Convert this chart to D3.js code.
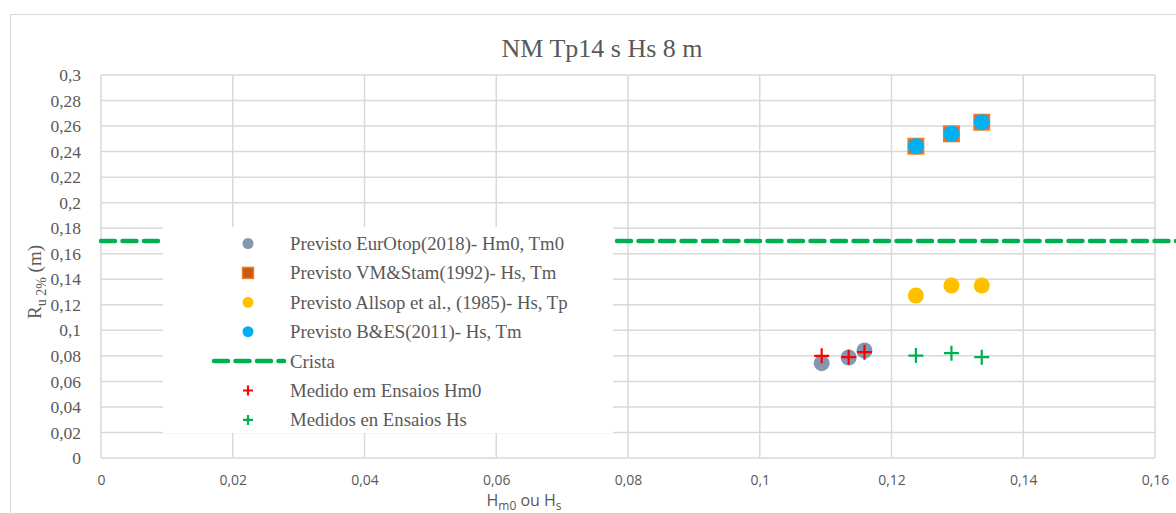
<!DOCTYPE html>
<html>
<head>
<meta charset="utf-8">
<script src="https://cdn.jsdelivr.net/npm/d3@7"></script>
<style>
  body { margin: 0; background: #fff; }
  svg { display: block; }
</style>
</head>
<body>
<div id="chart"></div>
<script>
// data
const xTicks = [0, 0.02, 0.04, 0.06, 0.08, 0.1, 0.12, 0.14, 0.16];
const yTicks = [0, 0.02, 0.04, 0.06, 0.08, 0.1, 0.12, 0.14, 0.16, 0.18, 0.2, 0.22, 0.24, 0.26, 0.28, 0.3];

const eurotopX = [0.1094, 0.1135, 0.1159];
const eurotopY = [0.0743, 0.0787, 0.0842];
const medidoHm0Y = [0.0800, 0.0790, 0.0829];

const hsX = [0.1237, 0.1291, 0.1337];
const vmStamY = [0.2442, 0.2539, 0.2630];
const allsopY = [0.1273, 0.1351, 0.1351];
const besY = [0.2442, 0.2539, 0.2630];
const medidosHsY = [0.0802, 0.0821, 0.0790];

const cristaX = [0, 0.17];
const cristaY = [0.17, 0.17];

const legendLabels = [
  "Previsto EurOtop(2018)- Hm0, Tm0",
  "Previsto VM&Stam(1992)- Hs, Tm",
  "Previsto Allsop et al., (1985)- Hs, Tp",
  "Previsto B&ES(2011)- Hs, Tm",
  "Crista",
  "Medido em Ensaios Hm0",
  "Medidos en Ensaios Hs"
];

const W = 1176, H = 513;
const margin = {top: 75, left: 101, right: 21, bottom: 55};
const grey = "#595959";
const serif = "Liberation Serif, Times New Roman, serif";
const sans = "Open Sans, Liberation Sans, sans-serif";

const svg = d3.select("#chart").append("svg")
  .attr("width", W).attr("height", H);

// outer chart border
svg.append("rect")
  .attr("x", 10.5).attr("y", 14.5)
  .attr("width", W + 10).attr("height", H + 10)
  .attr("fill", "#fff").attr("stroke", "#d9d9d9");

const x = d3.scaleLinear().domain([0, 0.16]).range([margin.left, W - margin.right]);
const y = d3.scaleLinear().domain([0, 0.3]).range([H - margin.bottom, margin.top]);

// gridlines
svg.append("g").selectAll("line").data(yTicks).enter().append("line")
  .attr("x1", x(0)).attr("x2", x(0.16))
  .attr("y1", d => y(d)).attr("y2", d => y(d))
  .attr("stroke", "#d9d9d9").attr("stroke-width", 1.5);
svg.append("g").selectAll("line").data(xTicks).enter().append("line")
  .attr("x1", d => x(d)).attr("x2", d => x(d))
  .attr("y1", y(0)).attr("y2", y(0.3))
  .attr("stroke", "#d9d9d9").attr("stroke-width", 1.5);

// axes
const fmt = d => String(d).replace(".", ",");
const yAxis = svg.append("g")
  .attr("transform", "translate(" + (x(0) - 17) + ",0)")
  .call(d3.axisLeft(y).tickValues(yTicks).tickFormat(fmt).tickSize(0));
yAxis.select(".domain").remove();
yAxis.attr("font-family", serif).attr("font-size", 17.5);
yAxis.selectAll("text").attr("fill", grey);

const xAxis = svg.append("g")
  .attr("transform", "translate(0," + (y(0) + 14) + ")")
  .call(d3.axisBottom(x).tickValues(xTicks).tickFormat(fmt).tickSize(0));
xAxis.select(".domain").remove();
xAxis.attr("font-family", sans).attr("font-size", 14);
xAxis.selectAll("text").attr("fill", grey);

// title
svg.append("text")
  .attr("x", 602).attr("y", 57)
  .attr("text-anchor", "middle")
  .attr("font-family", serif).attr("font-size", 26).attr("fill", grey)
  .text("NM Tp14 s Hs 8 m");

// axis titles
const xt = svg.append("text")
  .attr("x", 524).attr("y", 506)
  .attr("text-anchor", "middle")
  .attr("font-family", sans).attr("font-size", 16).attr("fill", grey);
xt.append("tspan").text("H");
xt.append("tspan").attr("dy", 4).attr("font-size", 12).text("m0");
xt.append("tspan").attr("dy", -4).text(" ou H");
xt.append("tspan").attr("dy", 4).attr("font-size", 12).text("s");

const yt = svg.append("text")
  .attr("transform", "translate(41,282) rotate(-90)")
  .attr("text-anchor", "middle")
  .attr("font-family", serif).attr("font-size", 19).attr("fill", grey);
yt.append("tspan").text("R");
yt.append("tspan").attr("dy", 5).attr("font-size", 14).text("u 2%");
yt.append("tspan").attr("dy", -5).text(" (m)");

// crista line
const line = d3.line().x((d, i) => x(cristaX[i])).y(d => y(d));
svg.append("path")
  .attr("d", line(cristaY))
  .attr("fill", "none").attr("stroke", "#00b050")
  .attr("stroke-width", 4.5).attr("stroke-dasharray", "14,7.5")
  .attr("stroke-linecap", "round");

// marker helpers
function circle(g, cx, cy, fill, r) {
  g.append("circle").attr("cx", cx).attr("cy", cy).attr("r", r || 8).attr("fill", fill);
}
function square(g, cx, cy, s, sw) {
  g.append("rect").attr("x", cx - s).attr("y", cy - s)
    .attr("width", 2 * s).attr("height", 2 * s)
    .attr("fill", "#c55a11").attr("stroke", "#ed7d31").attr("stroke-width", sw);
}
function plus(g, cx, cy, color, s) {
  g.append("path")
    .attr("d", `M${cx - s},${cy}H${cx + s}M${cx},${cy - s}V${cy + s}`)
    .attr("stroke", color).attr("stroke-width", 2.2).attr("fill", "none");
}

const marks = svg.append("g");
eurotopX.forEach((d, i) => circle(marks, x(d), y(eurotopY[i]), "#8497b0"));
hsX.forEach((d, i) => square(marks, x(d), y(vmStamY[i]), 7.5, 2));
hsX.forEach((d, i) => circle(marks, x(d), y(allsopY[i]), "#ffc000"));
hsX.forEach((d, i) => circle(marks, x(d), y(besY[i]), "#00b0f0"));
eurotopX.forEach((d, i) => plus(marks, x(d), y(medidoHm0Y[i]), "#ff0000", 7.5));
hsX.forEach((d, i) => plus(marks, x(d), y(medidosHsY[i]), "#00b050", 7.5));

// legend
const lg = svg.append("g");
lg.append("rect").attr("x", 163).attr("y", 227).attr("width", 450).attr("height", 206)
  .attr("fill", "#fff");
const rowY = i => 243.5 + i * 29.4;
const symX = 248;
legendLabels.forEach((t, i) => {
  lg.append("text")
    .attr("x", 290).attr("y", rowY(i)).attr("dy", "0.35em")
    .attr("font-family", serif).attr("font-size", 18.8).attr("fill", grey)
    .text(t);
});
circle(lg, symX, rowY(0), "#8497b0", 5.5);
square(lg, symX, rowY(1), 5.5, 1.5);
circle(lg, symX, rowY(2), "#ffc000", 5.5);
circle(lg, symX, rowY(3), "#00b0f0", 5.5);
lg.append("line").attr("x1", 214).attr("x2", 284).attr("y1", rowY(4)).attr("y2", rowY(4))
  .attr("stroke", "#00b050").attr("stroke-width", 4.5).attr("stroke-dasharray", "14,7.5")
  .attr("stroke-linecap", "round");
plus(lg, symX, rowY(5), "#ff0000", 5);
plus(lg, symX, rowY(6), "#00b050", 5);
</script>
</body>
</html>
